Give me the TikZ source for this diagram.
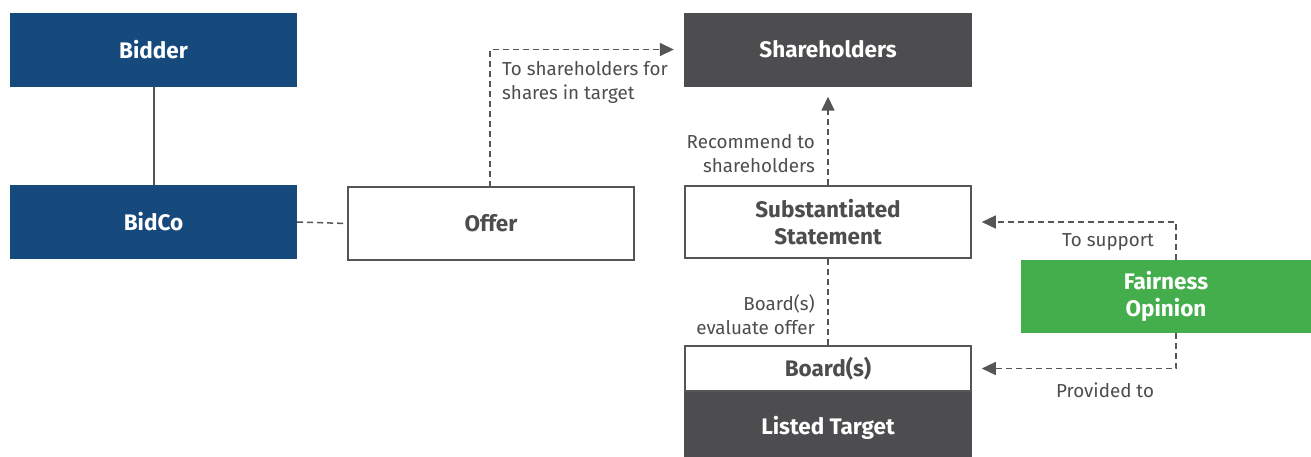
\documentclass[tikz,border=0pt]{standalone}
\usepackage{fontspec}
\setmainfont{Fira Sans}
\usetikzlibrary{arrows.meta}
\definecolor{bidblue}{HTML}{174A7C}
\definecolor{darkgrey}{HTML}{4D4D4F}
\definecolor{linegrey}{HTML}{555555}
\definecolor{fairgreen}{HTML}{43AE4B}
\begin{document}
\begin{tikzpicture}[x=1pt,y=-1pt,
  box/.style={rectangle, inner sep=0pt, align=center, font=\fontsize{22.5}{26.5}\selectfont\bfseries},
  bluebox/.style={box, fill=bidblue, text=white},
  darkbox/.style={box, fill=darkgrey, text=white},
  whitebox/.style={box, fill=white, draw=linegrey, line width=1.6pt, text=darkgrey},
  greenbox/.style={box, fill=fairgreen, text=white},
  lbl/.style={inner sep=0pt, text=darkgrey, font=\fontsize{18.8}{24.5}\selectfont},
  link/.style={draw=linegrey, line width=1.5pt},
  dlink/.style={link, dash pattern=on 6pt off 4pt},
  arr/.style={dlink, -{Triangle[length=14pt,width=13pt]}, shorten >=10pt}
]
\useasboundingbox (0,0) rectangle (1311,456);

% left column: bidder side
\node[bluebox, minimum width=287pt, minimum height=74pt] (bidder) at (153.5,49.5) {Bidder};
\node[bluebox, minimum width=287pt, minimum height=74pt] (bidco) at (153.5,222) {BidCo};
\node[whitebox, minimum width=286pt, minimum height=73pt] (offer) at (491,223.5) {Offer};

% target side
\node[darkbox, minimum width=288pt, minimum height=74pt] (share) at (828,49.5) {Shareholders};
\node[whitebox, minimum width=286pt, minimum height=72pt] (subst) at (828,222) {Substantiated\\Statement};
\node[darkbox, minimum width=288pt, minimum height=74pt] (target) at (828,428) {Listed Target};
\node[whitebox, minimum width=286pt, minimum height=45pt] (board) at (828,368.5) {Board(s)};
\node[greenbox, minimum width=290pt, minimum height=73pt] (fair) at (1166,296.5) {Fairness\\Opinion};

% connectors
\draw[link, line width=2pt] (bidder.south) -- (bidco.north);
\draw[dlink] (bidco.east) -- (offer.west);
\coordinate (offertop) at (490,187);
\draw[arr] (offertop) |- (share.west);
\draw[arr] (subst.north) -- (share.south);
\draw[dlink] (board.north) -- (subst.south);
\coordinate (fairtop) at (1176,260);
\coordinate (fairbot) at (1176,333);
\draw[arr] (fairtop) |- (subst.east);
\draw[arr] (fairbot) |- (board.east);

% labels
\node[lbl, anchor=north west, align=left] (l1) at (502,61) {To shareholders for\\shares in target};
\node[lbl, anchor=north east, align=right] (l2) at (815,134) {Recommend to\\shareholders};
\node[lbl, anchor=north east, align=right] (l3) at (815,294) {Board(s)\\evaluate offer};
\node[lbl] (l4) at (1108,242) {To support};
\node[lbl] (l5) at (1105,390) {Provided to};
\end{tikzpicture}
\end{document}
